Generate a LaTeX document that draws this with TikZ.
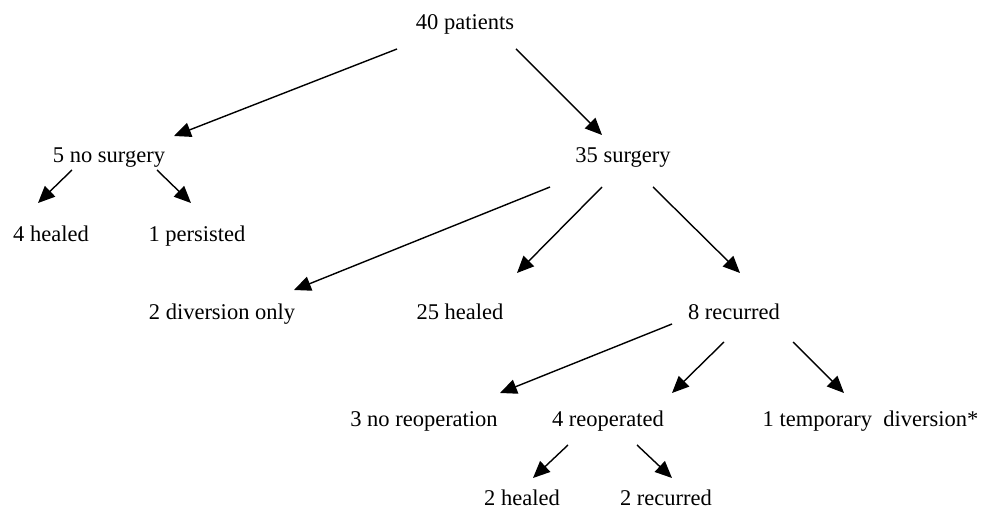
\documentclass[tikz,border=0pt]{standalone}
\usepackage{fontspec}
\setmainfont{Liberation Serif}
\usetikzlibrary{arrows.meta}
\begin{document}
\begin{tikzpicture}[x=0.025cm,y=-0.025cm,
  lbl/.style={anchor=base,inner sep=0pt,font=\fontsize{16}{19}\selectfont},
  arr/.style={line width=1pt,-{Triangle[length=12pt,width=10.5pt]}}]
\useasboundingbox (0,0) rectangle (981,510);
% nodes
\node[lbl] (p40) at (465,30) {40 patients};
\node[lbl] (nos) at (109,163) {5 no surgery};
\node[lbl] (sur) at (623,163) {35 surgery};
\node[lbl] (h4) at (51,242) {4 healed};
\node[lbl] (per) at (197,242) {1 persisted};
\node[lbl] (div) at (222,320) {2 diversion only};
\node[lbl] (h25) at (460,320) {25 healed};
\node[lbl] (rec) at (734,320) {8 recurred};
\node[lbl] (nro) at (424,427) {3 no reoperation};
\node[lbl] (reo) at (608,427) {4 reoperated};
\node[lbl] (tmp) at (870.5,427) {1 temporary\ \ diversion*};
\node[lbl] (h2) at (522,505) {2 healed};
\node[lbl] (r2) at (666,505) {2 recurred};
% connector end points
\coordinate (p40l) at (397,49);   \coordinate (nosT) at (174,136);
\coordinate (p40r) at (516,49);   \coordinate (surT) at (602,135);
\coordinate (nosl) at (72,170);   \coordinate (h4T) at (38,203);
\coordinate (nosr) at (157,170);  \coordinate (perT) at (191,203);
\coordinate (surl) at (550,187);  \coordinate (divT) at (294,290);
\coordinate (surm) at (602,187);  \coordinate (h25T) at (517,273);
\coordinate (surr) at (653,187);  \coordinate (recT) at (740,273);
\coordinate (recl) at (672,324);  \coordinate (nroT) at (500,393);
\coordinate (recm) at (724,342);  \coordinate (reoT) at (672,393);
\coordinate (recr) at (793,342);  \coordinate (tmpT) at (844,393);
\coordinate (reol) at (568,445);  \coordinate (h2T) at (533,478);
\coordinate (reor) at (637,445);  \coordinate (r2T) at (672,478);
% connectors
\draw[arr] (p40l) -- (nosT);
\draw[arr] (p40r) -- (surT);
\draw[arr] (nosl) -- (h4T);
\draw[arr] (nosr) -- (perT);
\draw[arr] (surl) -- (divT);
\draw[arr] (surm) -- (h25T);
\draw[arr] (surr) -- (recT);
\draw[arr] (recl) -- (nroT);
\draw[arr] (recm) -- (reoT);
\draw[arr] (recr) -- (tmpT);
\draw[arr] (reol) -- (h2T);
\draw[arr] (reor) -- (r2T);
\end{tikzpicture}
\end{document}
